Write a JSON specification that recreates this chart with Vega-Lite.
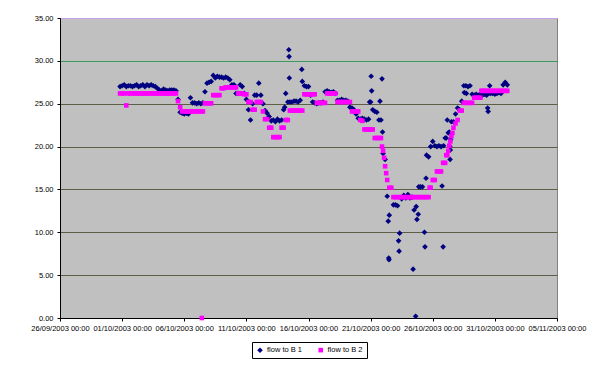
{
  "$schema": "https://vega.github.io/schema/vega-lite/v6.json",
  "autosize": {"type": "none"},
  "padding": {"left": 60, "top": 18, "right": 38, "bottom": 53},
  "width": 497,
  "height": 300,
  "background": "#ffffff",
  "config": {
    "font": "Liberation Sans",
    "view": {"fill": "#C0C0C0", "stroke": "#808080", "strokeWidth": 1}
  },
  "data": {
    "values": [
      {"t":"2003-09-30T20:00","a":27.0,"b":26.2},
      {"t":"2003-10-01T00:00","a":27.1,"b":26.2},
      {"t":"2003-10-01T04:00","a":27.2,"b":26.2},
      {"t":"2003-10-01T08:00","a":27.0,"b":24.8},
      {"t":"2003-10-01T12:00","a":27.1,"b":26.2},
      {"t":"2003-10-01T16:00","a":27.1,"b":26.2},
      {"t":"2003-10-01T20:00","a":27.0,"b":26.2},
      {"t":"2003-10-02T00:00","a":27.1,"b":26.2},
      {"t":"2003-10-02T04:00","a":27.2,"b":26.2},
      {"t":"2003-10-02T08:00","a":27.0,"b":26.2},
      {"t":"2003-10-02T12:00","a":27.1,"b":26.2},
      {"t":"2003-10-02T16:00","a":27.2,"b":26.2},
      {"t":"2003-10-02T20:00","a":27.0,"b":26.2},
      {"t":"2003-10-03T00:00","a":27.2,"b":26.2},
      {"t":"2003-10-03T04:00","a":27.1,"b":26.2},
      {"t":"2003-10-03T08:00","a":27.2,"b":26.2},
      {"t":"2003-10-03T12:00","a":27.1,"b":26.2},
      {"t":"2003-10-03T16:00","a":27.0,"b":26.2},
      {"t":"2003-10-03T20:00","a":26.8,"b":26.2},
      {"t":"2003-10-04T00:00","a":26.6,"b":26.2},
      {"t":"2003-10-04T04:00","a":26.5,"b":26.2},
      {"t":"2003-10-04T08:00","a":26.7,"b":26.2},
      {"t":"2003-10-04T12:00","a":26.6,"b":26.2},
      {"t":"2003-10-04T16:00","a":26.5,"b":26.2},
      {"t":"2003-10-04T20:00","a":26.6,"b":26.2},
      {"t":"2003-10-05T00:00","a":26.6,"b":26.2},
      {"t":"2003-10-05T04:00","a":26.6,"b":26.2},
      {"t":"2003-10-05T08:00","a":26.5,"b":26.2},
      {"t":"2003-10-05T12:00","a":25.5,"b":25.3},
      {"t":"2003-10-05T16:00","a":24.0,"b":24.6},
      {"t":"2003-10-05T20:00","a":23.9,"b":24.1},
      {"t":"2003-10-06T00:00","a":23.8,"b":24.1},
      {"t":"2003-10-06T04:00","a":23.9,"b":24.1},
      {"t":"2003-10-06T08:00","a":23.8,"b":24.1},
      {"t":"2003-10-06T12:00","a":25.7,"b":24.1},
      {"t":"2003-10-06T16:00","a":25.1,"b":24.1},
      {"t":"2003-10-06T20:00","a":25.1,"b":24.1},
      {"t":"2003-10-07T00:00","a":25.0,"b":24.1},
      {"t":"2003-10-07T04:00","a":25.1,"b":24.1},
      {"t":"2003-10-07T08:00","a":25.0,"b":24.1},
      {"t":"2003-10-07T10:00","b":0.0},
      {"t":"2003-10-07T12:00","a":25.1,"b":24.1},
      {"t":"2003-10-07T16:00","a":26.4,"b":25.05},
      {"t":"2003-10-07T20:00","a":27.4,"b":25.05},
      {"t":"2003-10-08T00:00","a":27.5,"b":25.05},
      {"t":"2003-10-08T04:00","a":27.6,"b":25.05},
      {"t":"2003-10-08T08:00","a":28.3,"b":26.0},
      {"t":"2003-10-08T12:00","a":28.0,"b":26.0},
      {"t":"2003-10-08T16:00","a":28.2,"b":26.0},
      {"t":"2003-10-08T20:00","a":28.1,"b":26.0},
      {"t":"2003-10-09T00:00","a":28.1,"b":26.8},
      {"t":"2003-10-09T04:00","a":28.0,"b":26.8},
      {"t":"2003-10-09T08:00","a":28.1,"b":26.9},
      {"t":"2003-10-09T12:00","a":28.0,"b":26.9},
      {"t":"2003-10-09T16:00","a":27.8,"b":26.9},
      {"t":"2003-10-09T20:00","a":27.2,"b":26.9},
      {"t":"2003-10-10T00:00","a":27.2,"b":26.9},
      {"t":"2003-10-10T04:00","a":26.2,"b":26.9},
      {"t":"2003-10-10T08:00","a":26.2,"b":26.2},
      {"t":"2003-10-10T12:00","a":27.2,"b":26.2},
      {"t":"2003-10-10T16:00","a":27.0,"b":26.2},
      {"t":"2003-10-10T20:00","a":26.2,"b":26.1},
      {"t":"2003-10-11T00:00","a":25.5,"b":26.1},
      {"t":"2003-10-11T04:00","a":24.3,"b":25.2},
      {"t":"2003-10-11T08:00","a":23.1,"b":25.2},
      {"t":"2003-10-11T12:00","a":25.0,"b":24.3},
      {"t":"2003-10-11T16:00","a":26.0,"b":24.3},
      {"t":"2003-10-11T20:00","a":26.0,"b":25.2},
      {"t":"2003-10-12T00:00","a":27.4,"b":25.2},
      {"t":"2003-10-12T04:00","a":26.0,"b":25.2},
      {"t":"2003-10-12T08:00","a":25.0,"b":24.1},
      {"t":"2003-10-12T12:00","a":24.2,"b":23.2},
      {"t":"2003-10-12T16:00","a":23.9,"b":23.2},
      {"t":"2003-10-12T20:00","a":23.5,"b":22.2},
      {"t":"2003-10-13T00:00","a":23.0,"b":22.2},
      {"t":"2003-10-13T04:00","a":23.1,"b":21.1},
      {"t":"2003-10-13T08:00","a":22.9,"b":21.1},
      {"t":"2003-10-13T12:00","a":23.2,"b":21.1},
      {"t":"2003-10-13T16:00","a":23.0,"b":21.1},
      {"t":"2003-10-13T20:00","a":23.1,"b":22.2},
      {"t":"2003-10-14T00:00","a":24.3,"b":22.2},
      {"t":"2003-10-14T02:00","a":24.6},
      {"t":"2003-10-14T04:00","a":26.2,"b":23.1},
      {"t":"2003-10-14T08:00","a":25.2,"b":23.1},
      {"t":"2003-10-14T10:00","a":31.3},
      {"t":"2003-10-14T10:30","a":30.5},
      {"t":"2003-10-14T11:00","a":28.0},
      {"t":"2003-10-14T12:00","a":25.2,"b":24.2},
      {"t":"2003-10-14T16:00","a":25.2,"b":24.2},
      {"t":"2003-10-14T20:00","a":25.3,"b":24.2},
      {"t":"2003-10-15T00:00","a":25.3,"b":24.2},
      {"t":"2003-10-15T04:00","a":25.2,"b":24.2},
      {"t":"2003-10-15T08:00","a":25.4,"b":24.2},
      {"t":"2003-10-15T11:00","a":29.0},
      {"t":"2003-10-15T12:00","a":27.6,"b":24.2},
      {"t":"2003-10-15T16:00","a":27.1,"b":26.1},
      {"t":"2003-10-15T20:00","a":27.0,"b":26.1},
      {"t":"2003-10-16T00:00","a":27.0,"b":26.1},
      {"t":"2003-10-16T04:00","a":26.0,"b":26.1},
      {"t":"2003-10-16T08:00","a":25.2,"b":26.1},
      {"t":"2003-10-16T12:00","a":25.1,"b":26.1},
      {"t":"2003-10-16T16:00","a":25.0,"b":25.1},
      {"t":"2003-10-16T20:00","a":25.1,"b":25.1},
      {"t":"2003-10-17T00:00","a":25.1,"b":25.1},
      {"t":"2003-10-17T04:00","a":25.2,"b":25.1},
      {"t":"2003-10-17T08:00","a":26.4,"b":25.1},
      {"t":"2003-10-17T12:00","a":26.5,"b":26.2},
      {"t":"2003-10-17T16:00","a":26.4,"b":26.2},
      {"t":"2003-10-17T20:00","a":26.3,"b":26.2},
      {"t":"2003-10-18T00:00","a":26.4,"b":26.2},
      {"t":"2003-10-18T04:00","a":26.2,"b":26.2},
      {"t":"2003-10-18T08:00","a":25.4,"b":25.2},
      {"t":"2003-10-18T12:00","a":25.4,"b":25.2},
      {"t":"2003-10-18T16:00","a":25.5,"b":25.2},
      {"t":"2003-10-18T20:00","a":25.4,"b":25.2},
      {"t":"2003-10-19T00:00","a":25.4,"b":25.2},
      {"t":"2003-10-19T04:00","a":25.3,"b":25.2},
      {"t":"2003-10-19T08:00","a":24.6,"b":25.2},
      {"t":"2003-10-19T12:00","a":24.5,"b":24.1},
      {"t":"2003-10-19T16:00","a":24.3,"b":24.1},
      {"t":"2003-10-19T20:00","a":23.8,"b":24.1},
      {"t":"2003-10-20T00:00","a":23.3,"b":24.1},
      {"t":"2003-10-20T04:00","a":23.2,"b":23.1},
      {"t":"2003-10-20T08:00","a":23.3,"b":23.0},
      {"t":"2003-10-20T12:00","a":23.2,"b":22.0},
      {"t":"2003-10-20T16:00","a":23.1,"b":22.0},
      {"t":"2003-10-20T20:00","a":23.2,"b":22.0},
      {"t":"2003-10-20T22:00","a":25.2},
      {"t":"2003-10-21T00:00","a":25.2,"b":22.0},
      {"t":"2003-10-21T01:00","a":28.2},
      {"t":"2003-10-21T02:00","a":26.5},
      {"t":"2003-10-21T04:00","a":24.3,"b":22.0},
      {"t":"2003-10-21T08:00","a":24.1,"b":21.0},
      {"t":"2003-10-21T12:00","a":24.0,"b":21.0},
      {"t":"2003-10-21T16:00","a":23.1,"b":21.0},
      {"t":"2003-10-21T18:00","a":25.3},
      {"t":"2003-10-21T20:00","a":23.1,"b":21.0},
      {"t":"2003-10-21T22:00","a":27.9,"b":20.0},
      {"t":"2003-10-21T23:00","a":21.7},
      {"t":"2003-10-22T00:00","a":19.2,"b":19.5},
      {"t":"2003-10-22T02:00","b":18.7},
      {"t":"2003-10-22T04:00","a":18.5,"b":17.7},
      {"t":"2003-10-22T06:00","b":16.9},
      {"t":"2003-10-22T08:00","a":14.2,"b":16.1},
      {"t":"2003-10-22T10:00","a":11.3},
      {"t":"2003-10-22T11:00","a":7.0},
      {"t":"2003-10-22T11:30","a":6.8},
      {"t":"2003-10-22T12:00","a":12.0,"b":15.2},
      {"t":"2003-10-22T16:00","b":15.2},
      {"t":"2003-10-22T20:00","a":13.2,"b":14.1},
      {"t":"2003-10-23T00:00","a":13.2,"b":14.1},
      {"t":"2003-10-23T04:00","a":13.1,"b":14.1},
      {"t":"2003-10-23T06:00","a":9.0},
      {"t":"2003-10-23T07:00","a":7.8},
      {"t":"2003-10-23T08:00","a":9.9,"b":14.1},
      {"t":"2003-10-23T12:00","a":13.9,"b":14.1},
      {"t":"2003-10-23T16:00","a":14.3,"b":14.1},
      {"t":"2003-10-23T20:00","a":14.0,"b":14.1},
      {"t":"2003-10-24T00:00","a":14.4,"b":14.1},
      {"t":"2003-10-24T04:00","a":14.0,"b":14.1},
      {"t":"2003-10-24T08:00","a":14.1,"b":14.1},
      {"t":"2003-10-24T10:00","a":5.7},
      {"t":"2003-10-24T12:00","a":12.6,"b":14.1},
      {"t":"2003-10-24T15:00","a":0.2},
      {"t":"2003-10-24T16:00","a":13.0,"b":14.1},
      {"t":"2003-10-24T17:30","a":11.5},
      {"t":"2003-10-24T20:00","a":12.1,"b":14.1},
      {"t":"2003-10-24T21:00","a":15.3},
      {"t":"2003-10-25T00:00","a":15.3,"b":14.1},
      {"t":"2003-10-25T04:00","a":15.3,"b":14.1},
      {"t":"2003-10-25T08:00","a":10.0,"b":14.1},
      {"t":"2003-10-25T09:00","a":8.3},
      {"t":"2003-10-25T11:00","a":16.3},
      {"t":"2003-10-25T12:00","a":19.0,"b":14.1},
      {"t":"2003-10-25T16:00","a":18.8,"b":14.1},
      {"t":"2003-10-25T18:00","b":15.2},
      {"t":"2003-10-25T20:00","a":20.0,"b":15.2},
      {"t":"2003-10-26T00:00","a":20.6,"b":16.1},
      {"t":"2003-10-26T04:00","a":20.1,"b":16.1},
      {"t":"2003-10-26T08:00","a":20.0,"b":17.1},
      {"t":"2003-10-26T12:00","a":20.1,"b":17.1},
      {"t":"2003-10-26T16:00","a":20.0,"b":17.1},
      {"t":"2003-10-26T18:00","a":15.4},
      {"t":"2003-10-26T20:00","a":8.3,"b":18.1},
      {"t":"2003-10-26T21:00","a":20.1},
      {"t":"2003-10-27T00:00","a":21.0,"b":18.1},
      {"t":"2003-10-27T02:00","a":21.0,"b":19.0},
      {"t":"2003-10-27T04:00","a":23.1,"b":19.0},
      {"t":"2003-10-27T06:00","a":21.6,"b":19.5},
      {"t":"2003-10-27T08:00","a":21.7,"b":20.1},
      {"t":"2003-10-27T09:00","a":20.0},
      {"t":"2003-10-27T09:30","a":18.5},
      {"t":"2003-10-27T10:00","a":19.6,"b":20.6},
      {"t":"2003-10-27T10:30","a":20.8},
      {"t":"2003-10-27T12:00","a":22.9,"b":21.2},
      {"t":"2003-10-27T14:00","b":21.6},
      {"t":"2003-10-27T16:00","a":22.9,"b":22.2},
      {"t":"2003-10-27T20:00","a":23.8,"b":22.7},
      {"t":"2003-10-28T00:00","a":24.5,"b":23.1},
      {"t":"2003-10-28T04:00","a":24.3,"b":24.2},
      {"t":"2003-10-28T08:00","a":25.3,"b":24.2},
      {"t":"2003-10-28T12:00","a":27.1,"b":25.1},
      {"t":"2003-10-28T13:00","a":26.3},
      {"t":"2003-10-28T16:00","a":27.1,"b":25.1},
      {"t":"2003-10-28T17:00","a":26.2},
      {"t":"2003-10-28T20:00","a":27.0,"b":25.1},
      {"t":"2003-10-29T00:00","a":27.1,"b":25.1},
      {"t":"2003-10-29T04:00","a":26.1,"b":25.1},
      {"t":"2003-10-29T08:00","a":26.0,"b":25.7},
      {"t":"2003-10-29T12:00","a":26.1,"b":25.7},
      {"t":"2003-10-29T16:00","a":26.0,"b":25.7},
      {"t":"2003-10-29T20:00","a":26.1,"b":25.7},
      {"t":"2003-10-29T22:00","b":26.5},
      {"t":"2003-10-30T00:00","a":26.0,"b":26.5},
      {"t":"2003-10-30T04:00","a":26.1,"b":26.5},
      {"t":"2003-10-30T08:00","a":26.0,"b":26.5},
      {"t":"2003-10-30T10:00","a":24.5},
      {"t":"2003-10-30T11:00","a":24.1},
      {"t":"2003-10-30T12:00","a":26.2,"b":26.5},
      {"t":"2003-10-30T14:00","a":27.1},
      {"t":"2003-10-30T16:00","a":26.2,"b":26.5},
      {"t":"2003-10-30T20:00","a":26.2,"b":26.5},
      {"t":"2003-10-31T00:00","a":26.1,"b":26.5},
      {"t":"2003-10-31T04:00","a":26.2,"b":26.5},
      {"t":"2003-10-31T08:00","a":26.3,"b":26.5},
      {"t":"2003-10-31T12:00","a":26.2,"b":26.5},
      {"t":"2003-10-31T16:00","a":27.2,"b":26.5},
      {"t":"2003-10-31T20:00","a":27.5,"b":26.5},
      {"t":"2003-11-01T00:00","a":27.2,"b":26.5}
    ]
  },
  "transform": [
    {"fold": ["a", "b"], "as": ["s", "v"]},
    {"filter": "isValid(datum.v)"}
  ],
  "mark": {"type": "point", "filled": true, "opacity": 1, "strokeWidth": 0},
  "encoding": {
    "x": {
      "field": "t",
      "type": "temporal",
      "scale": {"domain": [{"year": 2003, "month": 9, "date": 26}, {"year": 2003, "month": 11, "date": 5}]},
      "axis": {
        "title": null,
        "grid": false,
        "values": [
          {"year": 2003, "month": 9, "date": 26},
          {"year": 2003, "month": 10, "date": 1},
          {"year": 2003, "month": 10, "date": 6},
          {"year": 2003, "month": 10, "date": 11},
          {"year": 2003, "month": 10, "date": 16},
          {"year": 2003, "month": 10, "date": 21},
          {"year": 2003, "month": 10, "date": 26},
          {"year": 2003, "month": 10, "date": 31},
          {"year": 2003, "month": 11, "date": 5}
        ],
        "format": "%d/%m/%Y %H:%M",
        "labelFontSize": 7.5,
        "labelColor": "#000000",
        "labelAngle": 0,
        "labelOverlap": false,
        "labelFlush": false,
        "labelPadding": 3,
        "tickSize": 3,
        "tickColor": "#000000",
        "domainColor": "#000000"
      }
    },
    "y": {
      "field": "v",
      "type": "quantitative",
      "scale": {"domain": [0, 35], "nice": false, "zero": true},
      "axis": {
        "title": null,
        "values": [0, 5, 10, 15, 20, 25, 30, 35],
        "format": ".2f",
        "labelFontSize": 7.5,
        "labelColor": "#000000",
        "labelPadding": 4,
        "tickSize": 3,
        "tickColor": "#000000",
        "domainColor": "#000000",
        "grid": true,
        "gridOpacity": 1,
        "gridWidth": 1,
        "gridColor": {
          "condition": [
            {"test": "datum.value == 30", "value": "#3f9a5e"},
            {"test": "datum.value == 35", "value": "#c8a2e6"}
          ],
          "value": "#5e5e46"
        }
      }
    },
    "color": {
      "field": "s",
      "type": "nominal",
      "scale": {"domain": ["a", "b"], "range": ["#000080", "#FF00FF"]},
      "legend": {
        "title": null,
        "orient": "none",
        "legendX": 192,
        "legendY": 324,
        "direction": "horizontal",
        "strokeColor": "#000000",
        "fillColor": "#ffffff",
        "padding": 4,
        "columnPadding": 14,
        "symbolSize": 14,
        "symbolOffset": 0,
        "labelOffset": 3,
        "labelFontSize": 7.5,
        "labelColor": "#000000",
        "labelExpr": "datum.label == 'a' ? 'flow to B 1' : 'flow to B 2'"
      }
    },
    "shape": {
      "field": "s",
      "type": "nominal",
      "scale": {"domain": ["a", "b"], "range": ["diamond", "square"]}
    },
    "size": {
      "field": "s",
      "type": "nominal",
      "scale": {"domain": ["a", "b"], "range": [32, 21]},
      "legend": null
    },
    "order": {"field": "s"}
  }
}
